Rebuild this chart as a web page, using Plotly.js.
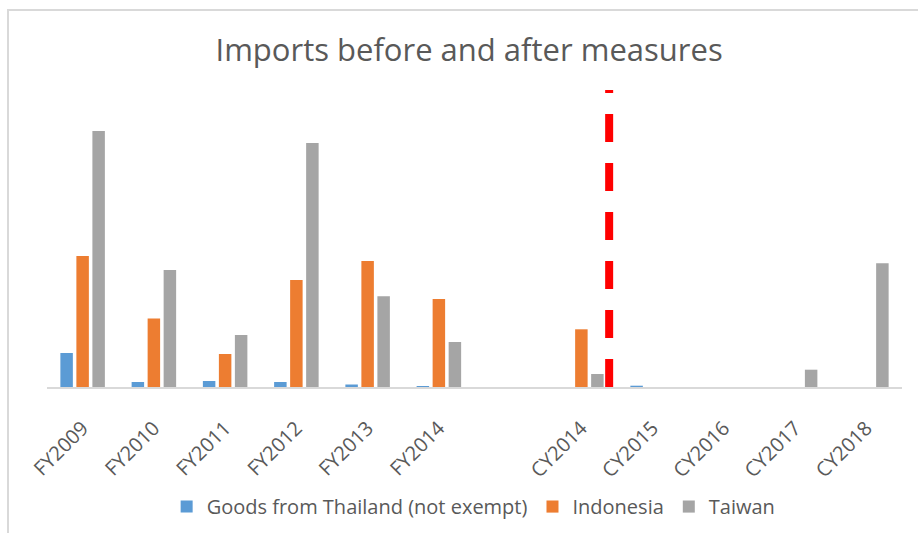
<!DOCTYPE html>
<html>
<head>
<meta charset="utf-8">
<script src="https://cdn.plot.ly/plotly-3.0.1.min.js"></script>
<style>
  html, body { margin: 0; padding: 0; background: #ffffff; }
  #wrap { position: relative; width: 918px; height: 533px; }
  #chart { width: 918px; height: 533px; }
  #frame { position: absolute; left: 7px; top: 9px; right: 0; bottom: 0;
           border-top: 2px solid #D9D9D9; border-left: 2px solid #D9D9D9; pointer-events: none; }
</style>
</head>
<body>
<div id="wrap">
  <div id="chart"></div>
  <div id="frame"></div>
</div>
<script>
// Categories (the blank one is the empty gap slot between FY and CY periods)
const categories = ["FY2009", "FY2010", "FY2011", "FY2012", "FY2013", "FY2014", " ",
                    "CY2014", "CY2015", "CY2016", "CY2017", "CY2018"];
// Series values (relative import volumes)
const thailand  = [34, 5, 6, 5, 2.5, 1, null, 0, 1.3, 0, 0, 0];
const indonesia = [131, 68.5, 33, 107, 126, 88, null, 57.7, 0, 0, 0, 0];
const taiwan    = [256, 117, 52, 244, 90.7, 45, null, 13, 0, 0, 17.3, 123.7];
const seriesNames = ["Goods from Thailand (not exempt)", "Indonesia", "Taiwan"];
// Position of the "measures" marker line (between CY2014 and CY2015)
const measureX = 7.39;
const measureTop = 297;

const colors = ["#5B9BD5", "#ED7D31", "#A5A5A5"];
const series = [thailand, indonesia, taiwan];

const traces = series.map((vals, i) => ({
  type: "bar",
  name: seriesNames[i],
  x: categories,
  y: vals,
  marker: { color: colors[i], line: { width: 0 } },
  hoverinfo: "x+y+name"
}));

const FONT = "'Open Sans', Lato, sans-serif";

const layout = {
  width: 918,
  height: 533,
  paper_bgcolor: "#ffffff",
  plot_bgcolor: "#ffffff",
  margin: { l: 47, r: 16, t: 88, b: 146, pad: 0, autoexpand: false },
  barmode: "group",
  bargap: 0.326,
  bargroupgap: 0.22,
  font: { family: FONT, color: "#595959" },
  title: {
    text: "Imports before and after measures",
    font: { family: FONT, size: 31, color: "#595959" },
    x: 0.511, xref: "container", xanchor: "center",
    y: 0.905, yref: "container", yanchor: "middle"
  },
  xaxis: {
    type: "category",
    categoryorder: "array",
    categoryarray: categories,
    automargin: false,
    showline: true,
    linecolor: "#D9D9D9",
    linewidth: 1.5,
    showgrid: false,
    zeroline: false,
    ticks: "",
    tickangle: -45,
    ticklabelstandoff: 20,
    tickfont: { family: FONT, size: 20, color: "#595959" },
    fixedrange: true
  },
  yaxis: {
    range: [0, 299],
    automargin: false,
    showgrid: false,
    zeroline: false,
    showline: false,
    showticklabels: false,
    ticks: "",
    fixedrange: true
  },
  showlegend: true,
  legend: {
    orientation: "h",
    x: 0.499, xanchor: "center",
    y: -0.40, yanchor: "middle",
    font: { family: FONT, size: 20, color: "#595959" },
    itemwidth: 30,
    traceorder: "normal"
  },
  shapes: [{
    type: "line",
    xref: "x", yref: "y",
    x0: measureX, x1: measureX,
    y0: 0, y1: measureTop,
    line: { color: "#FF0000", width: 8, dash: "28px,21px" }
  }]
};

Plotly.newPlot("chart", traces, layout, { displayModeBar: false, staticPlot: true });
</script>
</body>
</html>
